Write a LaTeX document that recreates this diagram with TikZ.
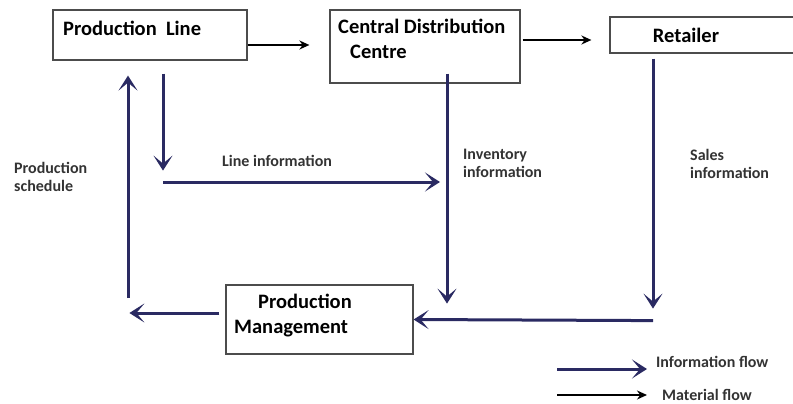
\documentclass[tikz,border=0pt]{standalone}
\usepackage{fontspec}
\setmainfont{Carlito}
\usetikzlibrary{calc,arrows.meta}
\definecolor{infoblue}{RGB}{42,42,98}
\tikzset{box/.style={draw=black!70,line width=1.2pt,rectangle,inner sep=0pt},
	boxtext/.style={font=\fontsize{20.5}{25}\selectfont\bfseries,inner sep=0pt,align=left},
	lbl/.style={font=\fontsize{16}{18}\selectfont\bfseries,text=black!80,inner sep=0pt,align=left},
	info/.style={draw=infoblue,line width=3pt,-{Stealth[length=15pt,width=19pt,inset=8pt]}},
	matflow/.style={draw=black,line width=1.8pt,-{Stealth[length=10pt,width=9pt]}}}

\begin{document}
\begin{tikzpicture}[x=1pt,y=-1pt]
\useasboundingbox (0,0) rectangle (793,404);
% boxes
\node [box,minimum width=194pt,minimum height=50pt] (pline) at (150,35) {};
\node [box,minimum width=190pt,minimum height=73pt] (cdc) at (425,46.5) {};
\node [box,minimum width=188pt,minimum height=36pt] (ret) at (704,35) {};
\node [box,minimum width=187pt,minimum height=69pt] (pm) at (319.5,319.5) {};
\node [boxtext,anchor=west] (plinetxt) at (63,28) {Production\ \ Line};
\node [boxtext,anchor=north west] (cdctxt) at (338,19) {Central Distribution\\\hspace{12pt}Centre};
\node [boxtext] (rettxt) at (686,35) {Retailer};
\node [boxtext,anchor=north west] (pmtxt) at (234,294) {\hspace{24pt}Production\\Management};
% material flow
\draw[matflow] ($(pline.east)+(0,10)$) -- ($(cdc.west |- pline.east)+(-20,10)$);
\draw[matflow] ($(cdc.east)+(2,-6.5)$) -- ($(ret.west |- cdc.east)+(-18,-6.5)$);
% information flow
\coordinate (linestart) at (163,182);
\coordinate (sched) at (128,298);
\draw[info] ($(pline.south)+(13,13)$) -- ($(pline.south)+(13,110)$);
\draw[info] (linestart) -- ($(cdc.south |- linestart)+(15,0)$);
\draw[info] (sched) -- ($(sched |- pline.south)+(0,15)$);
\draw[info] ($(cdc.south)+(22,-10)$) -- ($(cdc.south)+(22,220)$);
\draw[info] ($(ret.south)+(-51,5)$) -- ($(ret.south)+(-51,255)$);
\draw[info] ($(ret.south)+(-51,267)$) -- (pm.east);
\draw[info] ($(pm.west)+(-6,-6.5)$) -- ($(pm.west)+(-96,-6.5)$);
% labels
\node [lbl,anchor=west] (linelbl) at (222,161) {Line information};
\node [lbl,anchor=north west] (schedlbl) at (14,162) {Production\\schedule};
\node [lbl,anchor=north west] (invlbl) at (463,149) {Inventory\\information};
\node [lbl,anchor=north west] (saleslbl) at (690,149) {Sales\\information};
% legend
\coordinate (leginfo) at (557,369);
\coordinate (legmat) at (557,395);
\draw[info] (leginfo) -- ++(90,0);
\draw[matflow,line width=1.5pt] (legmat) -- ++(90,0);
\node [lbl,anchor=west] (infolbl) at (656,362) {Information flow};
\node [lbl,anchor=west] (matlbl) at (662,395) {Material flow};
\end{tikzpicture}
\end{document}
